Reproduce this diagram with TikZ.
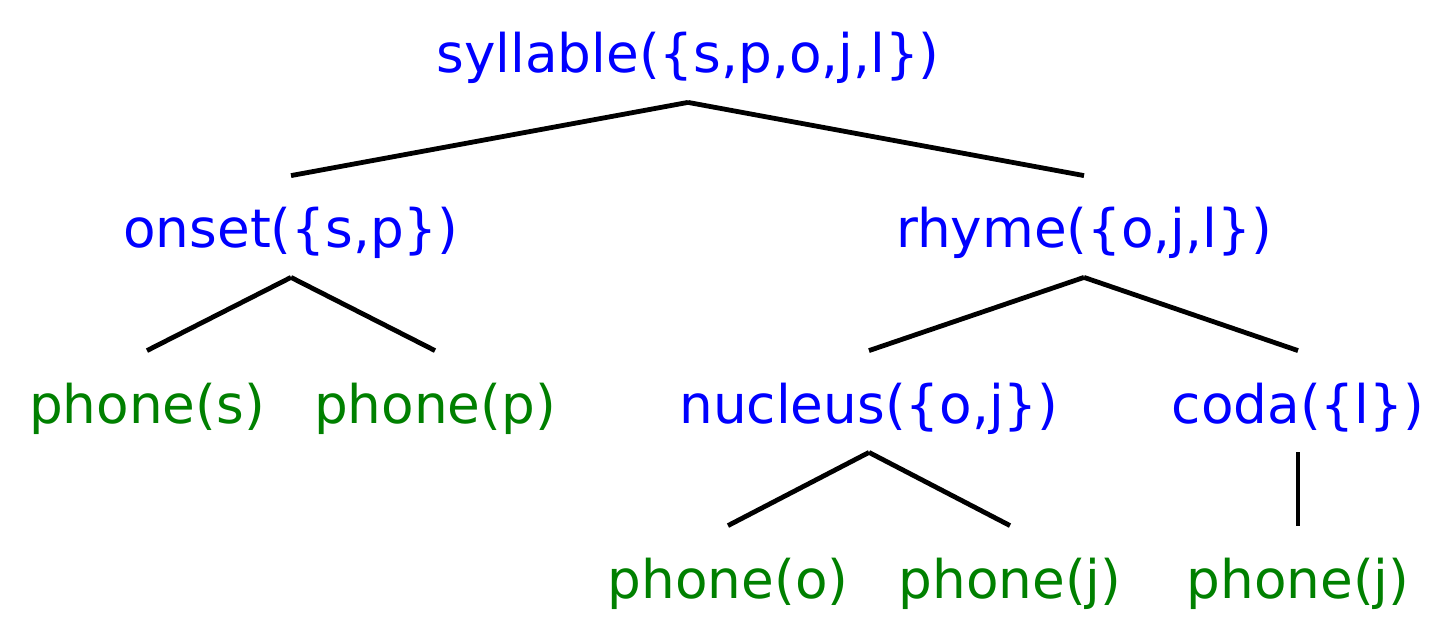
\documentclass[tikz,border=0pt]{standalone}
\usepackage{fontspec}
\setmainfont{DejaVu Sans}
\usepackage{tikz}
\definecolor{catblue}{RGB}{0,0,255}
\definecolor{phonegreen}{RGB}{0,128,0}

\begin{document}
\begin{tikzpicture}[x=0.5pt,y=-0.5pt,line width=2.4pt]
  \tikzstyle{every node}=[anchor=base,inner sep=0pt,text height=35pt,text depth=13.5pt,
                          font=\fontsize{26.6}{32}\selectfont]
  \tikzstyle{cat}=[text=catblue]
  \tikzstyle{phone}=[text=phonegreen]
  \useasboundingbox (0,0) rectangle (1455,625);

  \node[cat]   (syl)   at (688,73)   {syllable(\{s,p,o,j,l\})};
  \node[cat]   (onset) at (291,248)  {onset(\{s,p\})};
  \node[cat]   (rhyme) at (1084,248) {rhyme(\{o,j,l\})};
  \node[phone] (ps)    at (147,423)  {phone(s)};
  \node[phone] (pp)    at (435,423)  {phone(p)};
  \node[cat]   (nuc)   at (869,423)  {nucleus(\{o,j\})};
  \node[cat]   (coda)  at (1298,423) {coda(\{l\})};
  \node[phone] (po)    at (728,598)  {phone(o)};
  \node[phone] (pj)    at (1010,598) {phone(j)};
  \node[phone] (pl)    at (1298,598) {phone(j)};

  \path (syl.south)   edge (onset.north)
                      edge (rhyme.north)
        (onset.south) edge (ps.north)
                      edge (pp.north)
        (rhyme.south) edge (nuc.north)
                      edge (coda.north)
        (nuc.south)   edge (po.north)
                      edge (pj.north)
        (coda.south)  edge (pl.north);
\end{tikzpicture}
\end{document}
